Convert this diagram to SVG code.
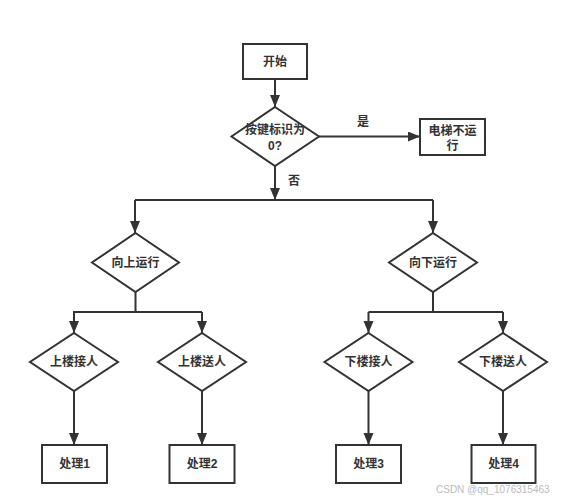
<svg xmlns="http://www.w3.org/2000/svg" width="562" height="500" viewBox="0 0 562 500">
<style>
.shape{fill:#fff;stroke:#333;stroke-width:2}
.t{font-family:"Liberation Sans","Noto Sans CJK SC",sans-serif;font-size:12px;font-weight:bold;fill:#333;text-anchor:middle}
.c{fill:none;stroke:#333;stroke-width:2}
.wm{font-family:"Liberation Sans","Noto Sans CJK SC",sans-serif;font-size:10px;fill:#bbb}
</style>
<defs>
<marker id="arr" markerUnits="userSpaceOnUse" markerWidth="12" markerHeight="14" refX="12" refY="5" orient="auto">
<path d="M0,0 L12,5 L0,10 Z" fill="#333"/>
</marker>
</defs>
<rect width="562" height="500" fill="#fff"/>
<g id="connectors">
<path class="c" d="M275,79 V107" marker-end="url(#arr)"/>
<path class="c" d="M319,136.5 H420" marker-end="url(#arr)"/>
<path class="c" d="M275,166 V200" marker-end="url(#arr)"/>
<path class="c" d="M135,200 H433"/>
<path class="c" d="M135,200 V233" marker-end="url(#arr)"/>
<path class="c" d="M433,200 V233" marker-end="url(#arr)"/>
<path class="c" d="M135.5,292 V312 M73,312 H202"/>
<path class="c" d="M74,312 V333" marker-end="url(#arr)"/>
<path class="c" d="M202,312 V333" marker-end="url(#arr)"/>
<path class="c" d="M433,292 V312 M368.5,312 H503"/>
<path class="c" d="M368.5,312 V333" marker-end="url(#arr)"/>
<path class="c" d="M503,312 V333" marker-end="url(#arr)"/>
<path class="c" d="M74,391 V445" marker-end="url(#arr)"/>
<path class="c" d="M202,391 V445" marker-end="url(#arr)"/>
<path class="c" d="M368.5,391 V445" marker-end="url(#arr)"/>
<path class="c" d="M503,391 V445" marker-end="url(#arr)"/>
<text class="t" x="363" y="126">是</text>
<text class="t" x="294" y="185">否</text>
</g>
<g id="start"><rect class="shape" x="243" y="44" width="64" height="35"/><text class="t" x="275" y="66">开始</text></g>
<g id="check"><polygon class="shape" points="275,107 319,136.5 275,166 231.5,136.5"/><text class="t" x="275" y="134">按键标识为</text><text class="t" x="275" y="150">0?</text></g>
<g id="stop"><rect class="shape" x="420" y="119" width="65" height="36"/><text class="t" x="452.5" y="135">电梯不运</text><text class="t" x="452.5" y="150">行</text></g>
<g id="up"><polygon class="shape" points="135.5,233 179,262.5 135.5,292 92,262.5"/><text class="t" x="135.5" y="267">向上运行</text></g>
<g id="down"><polygon class="shape" points="433,233 477,262.5 433,292 389,262.5"/><text class="t" x="433" y="267">向下运行</text></g>
<g id="upPick"><polygon class="shape" points="74,333 118,362 74,391 30,362"/><text class="t" x="74" y="366">上楼接人</text></g>
<g id="upSend"><polygon class="shape" points="202,333 246,362 202,391 158,362"/><text class="t" x="202" y="366">上楼送人</text></g>
<g id="downPick"><polygon class="shape" points="368.5,333 412.5,362 368.5,391 324.5,362"/><text class="t" x="368.5" y="366">下楼接人</text></g>
<g id="downSend"><polygon class="shape" points="503,333 547,362 503,391 459,362"/><text class="t" x="503" y="366">下楼送人</text></g>
<g id="p1"><rect class="shape" x="42" y="445" width="65" height="38"/><text class="t" x="74.5" y="468">处理1</text></g>
<g id="p2"><rect class="shape" x="169.5" y="445" width="65" height="38"/><text class="t" x="202" y="468">处理2</text></g>
<g id="p3"><rect class="shape" x="336" y="445" width="65" height="38"/><text class="t" x="368.5" y="468">处理3</text></g>
<g id="p4"><rect class="shape" x="471.5" y="445" width="64" height="38"/><text class="t" x="503.5" y="468">处理4</text></g>
<text class="wm" x="436" y="493">CSDN @qq_1076315463</text>
</svg>
